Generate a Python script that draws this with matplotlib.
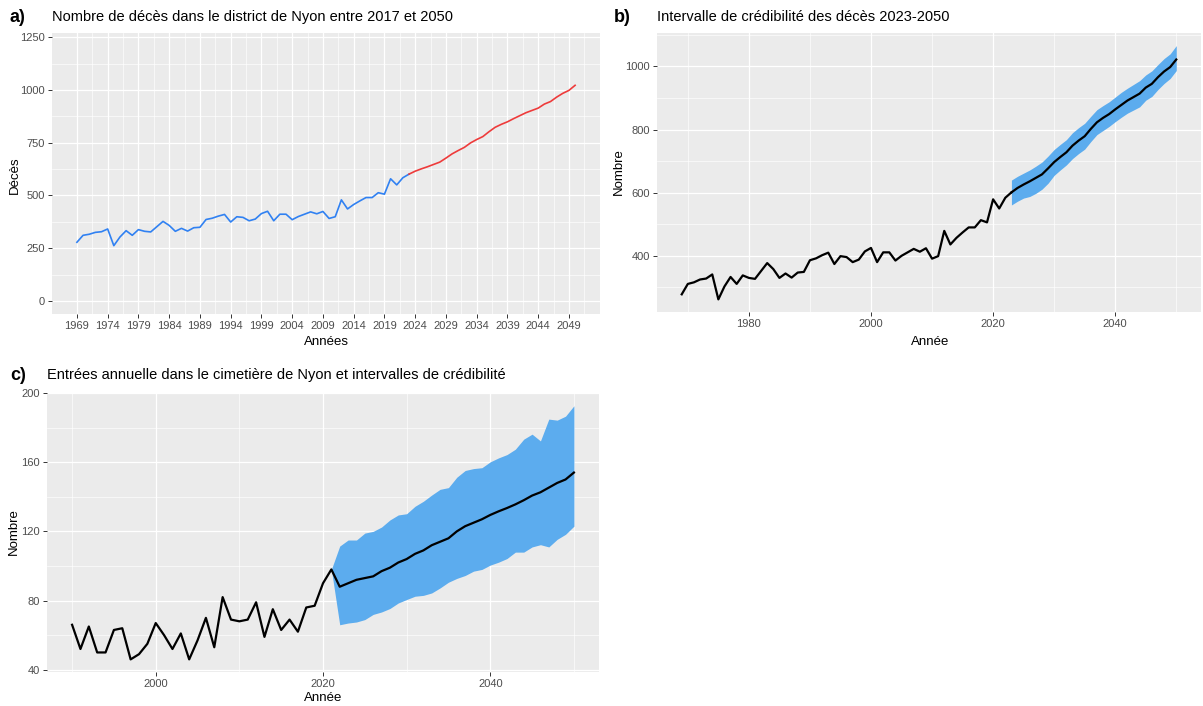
import matplotlib
matplotlib.use("Agg")
import matplotlib.pyplot as plt
from matplotlib.ticker import FixedLocator

plt.rcParams['font.family'] = ['Liberation Sans', 'DejaVu Sans']

# ── Data ──────────────────────────────────────────────────────────────────────
years_obs = list(range(1969, 2024))
deaths_obs = [278, 311, 316, 325, 328, 341, 262, 303, 333, 311,
              338, 330, 327, 352, 377, 358, 330, 344, 331, 347,
              349, 386, 392, 402, 410, 374, 399, 396, 380, 388,
              414, 425, 380, 411, 411, 385, 400, 411, 422, 413,
              424, 391, 399, 479, 436, 457, 474, 490, 490, 513,
              506, 579, 550, 584, 601]

years_fc = list(range(2023, 2051))
deaths_fc = [601, 615, 626, 636, 647, 658, 677, 697, 713, 728,
             749, 765, 779, 802, 823, 837, 849, 864, 878, 892,
             903, 914, 933, 945, 966, 984, 998, 1022]
deaths_hi = [640, 652, 662, 672, 684, 697, 716, 737, 753, 768,
             790, 806, 820, 842, 863, 876, 888, 903, 918, 931,
             943, 955, 973, 986, 1006, 1025, 1040, 1066]
deaths_lo = [561, 573, 583, 588, 598, 611, 630, 655, 672, 688,
             708, 724, 738, 762, 784, 797, 810, 825, 839, 852,
             862, 872, 893, 905, 927, 946, 962, 987]

years_cim = list(range(1990, 2051))
entries = [66, 52, 65, 50, 50, 63, 64, 46, 49, 55,
           67, 60, 52, 61, 46, 57, 70, 53, 82, 69,
           68, 69, 79, 59, 75, 63, 69, 62, 76, 77,
           90, 98, 88, 90, 92, 93, 94, 97, 99, 102,
           104, 107, 109, 112, 114, 116, 120, 123, 125, 127,
           129.5, 131.6, 133.5, 135.6, 138, 140.7, 142.6, 145.3, 148, 150, 154]

years_ci = list(range(2021, 2051))
entries_hi = [98, 111.5, 115, 115, 119, 120, 122.5, 126.6, 129.5, 130.2,
              134.5, 137.4, 141, 144.3, 145.3, 151.3, 155.2, 156.3, 156.8, 160.2,
              162.5, 164.4, 167.5, 173.3, 176.2, 172.3, 184.9, 184.3, 186.6, 192.6]
entries_lo = [98, 66, 67, 67.6, 69, 72, 73.4, 75.4, 78.6, 80.6,
              82.5, 83, 84.4, 87.3, 90.6, 92.8, 94.5, 97, 98, 100.5,
              102.2, 104.3, 108, 108, 111, 112.3, 111, 115.4, 118.3, 123]

# ── Style ─────────────────────────────────────────────────────────────────────
BG = "#EBEBEB"
TICK = "#4D4D4D"
BLUE = "#3081F2"
RED = "#EE3B3B"
BAND = "#5CACEE"
TITLE_SZ = 10.5
LAB_SZ = 9.5

W, H = 1203, 706
fig = plt.figure(figsize=(W / 100, H / 100), dpi=100)
fig.patch.set_facecolor("white")


def px_axes(left, top, right, bottom):
    return fig.add_axes([left / W, 1 - bottom / H, (right - left) / W, (bottom - top) / H])


def fig_txt(x, y, s, **kw):
    fig.text(x / W, 1 - y / H, s, **kw)


def gg(ax, xmaj, xmin, ymaj, ymin):
    ax.set_facecolor(BG)
    for sp in ax.spines.values():
        sp.set_visible(False)
    ax.xaxis.set_major_locator(FixedLocator(xmaj))
    ax.xaxis.set_minor_locator(FixedLocator(xmin))
    ax.yaxis.set_major_locator(FixedLocator(ymaj))
    ax.yaxis.set_minor_locator(FixedLocator(ymin))
    ax.grid(True, which="major", color="white", lw=0.9)
    ax.grid(True, which="minor", color="white", lw=0.45)
    ax.set_axisbelow(True)
    ax.tick_params(which="major", length=3, width=0.7, color="#333333",
                   labelcolor=TICK, labelsize=8, pad=2)
    ax.tick_params(which="minor", length=0)


# ── Panel a ───────────────────────────────────────────────────────────────────
ax_a = px_axes(52, 33, 600, 314)
ax_a.plot(years_obs, deaths_obs, color=BLUE, lw=1.2)
ax_a.plot(years_fc, deaths_fc, color=RED, lw=1.2)
xt_a = list(range(1969, 2050, 5))
gg(ax_a, xt_a, [x + 2.5 for x in xt_a], [0, 250, 500, 750, 1000, 1250],
   [125, 375, 625, 875, 1125])
ax_a.set_xlim(1964.95, 2054.05)
ax_a.set_ylim(-62, 1270)

fig_txt(10, 17, "a)", fontsize=13, fontweight="bold", va="center")
fig_txt(52, 17, "Nombre de décès dans le district de Nyon entre 2017 et 2050",
        fontsize=TITLE_SZ, va="center")
fig_txt(326, 342, "Années", fontsize=LAB_SZ, ha="center", va="center")
fig_txt(15, 175, "Décès", fontsize=LAB_SZ, ha="center", va="center", rotation=90)

# ── Panel b ───────────────────────────────────────────────────────────────────
ax_b = px_axes(657, 33, 1201, 312)
ax_b.fill_between(years_fc, deaths_lo, deaths_hi, color=BAND, lw=0)
ax_b.plot(years_obs, deaths_obs, color="black", lw=1.6)
ax_b.plot(years_fc, deaths_fc, color="black", lw=1.6)
gg(ax_b, [1980, 2000, 2020, 2040], [1970, 1990, 2010, 2030, 2050],
   [400, 600, 800, 1000], [300, 500, 700, 900, 1100])
ax_b.set_xlim(1964.95, 2054.05)
ax_b.set_ylim(222, 1106)

fig_txt(614, 17, "b)", fontsize=13, fontweight="bold", va="center")
fig_txt(657, 17, "Intervalle de crédibilité des décès 2023-2050",
        fontsize=TITLE_SZ, va="center")
fig_txt(930, 342, "Année", fontsize=LAB_SZ, ha="center", va="center")
fig_txt(619, 172, "Nombre", fontsize=LAB_SZ, ha="center", va="center", rotation=90)

# ── Panel c ───────────────────────────────────────────────────────────────────
ax_c = px_axes(47, 393, 599, 672)
ax_c.fill_between(years_ci, entries_lo, entries_hi, color=BAND, lw=0)
ax_c.plot(years_cim, entries, color="black", lw=1.6)
gg(ax_c, [2000, 2020, 2040], [1990, 2010, 2030, 2050],
   [40, 80, 120, 160, 200], [60, 100, 140, 180])
ax_c.set_xlim(1987, 2053)
ax_c.set_ylim(38.7, 200)

fig_txt(10, 375, "c)", fontsize=13, fontweight="bold", va="center")
fig_txt(47, 375, "Entrées annuelle dans le cimetière de Nyon et intervalles de crédibilité",
        fontsize=TITLE_SZ, va="center")
fig_txt(323, 698, "Année", fontsize=LAB_SZ, ha="center", va="center")
fig_txt(14, 532, "Nombre", fontsize=LAB_SZ, ha="center", va="center", rotation=90)

fig.savefig("out.png", dpi=100, facecolor="white")
